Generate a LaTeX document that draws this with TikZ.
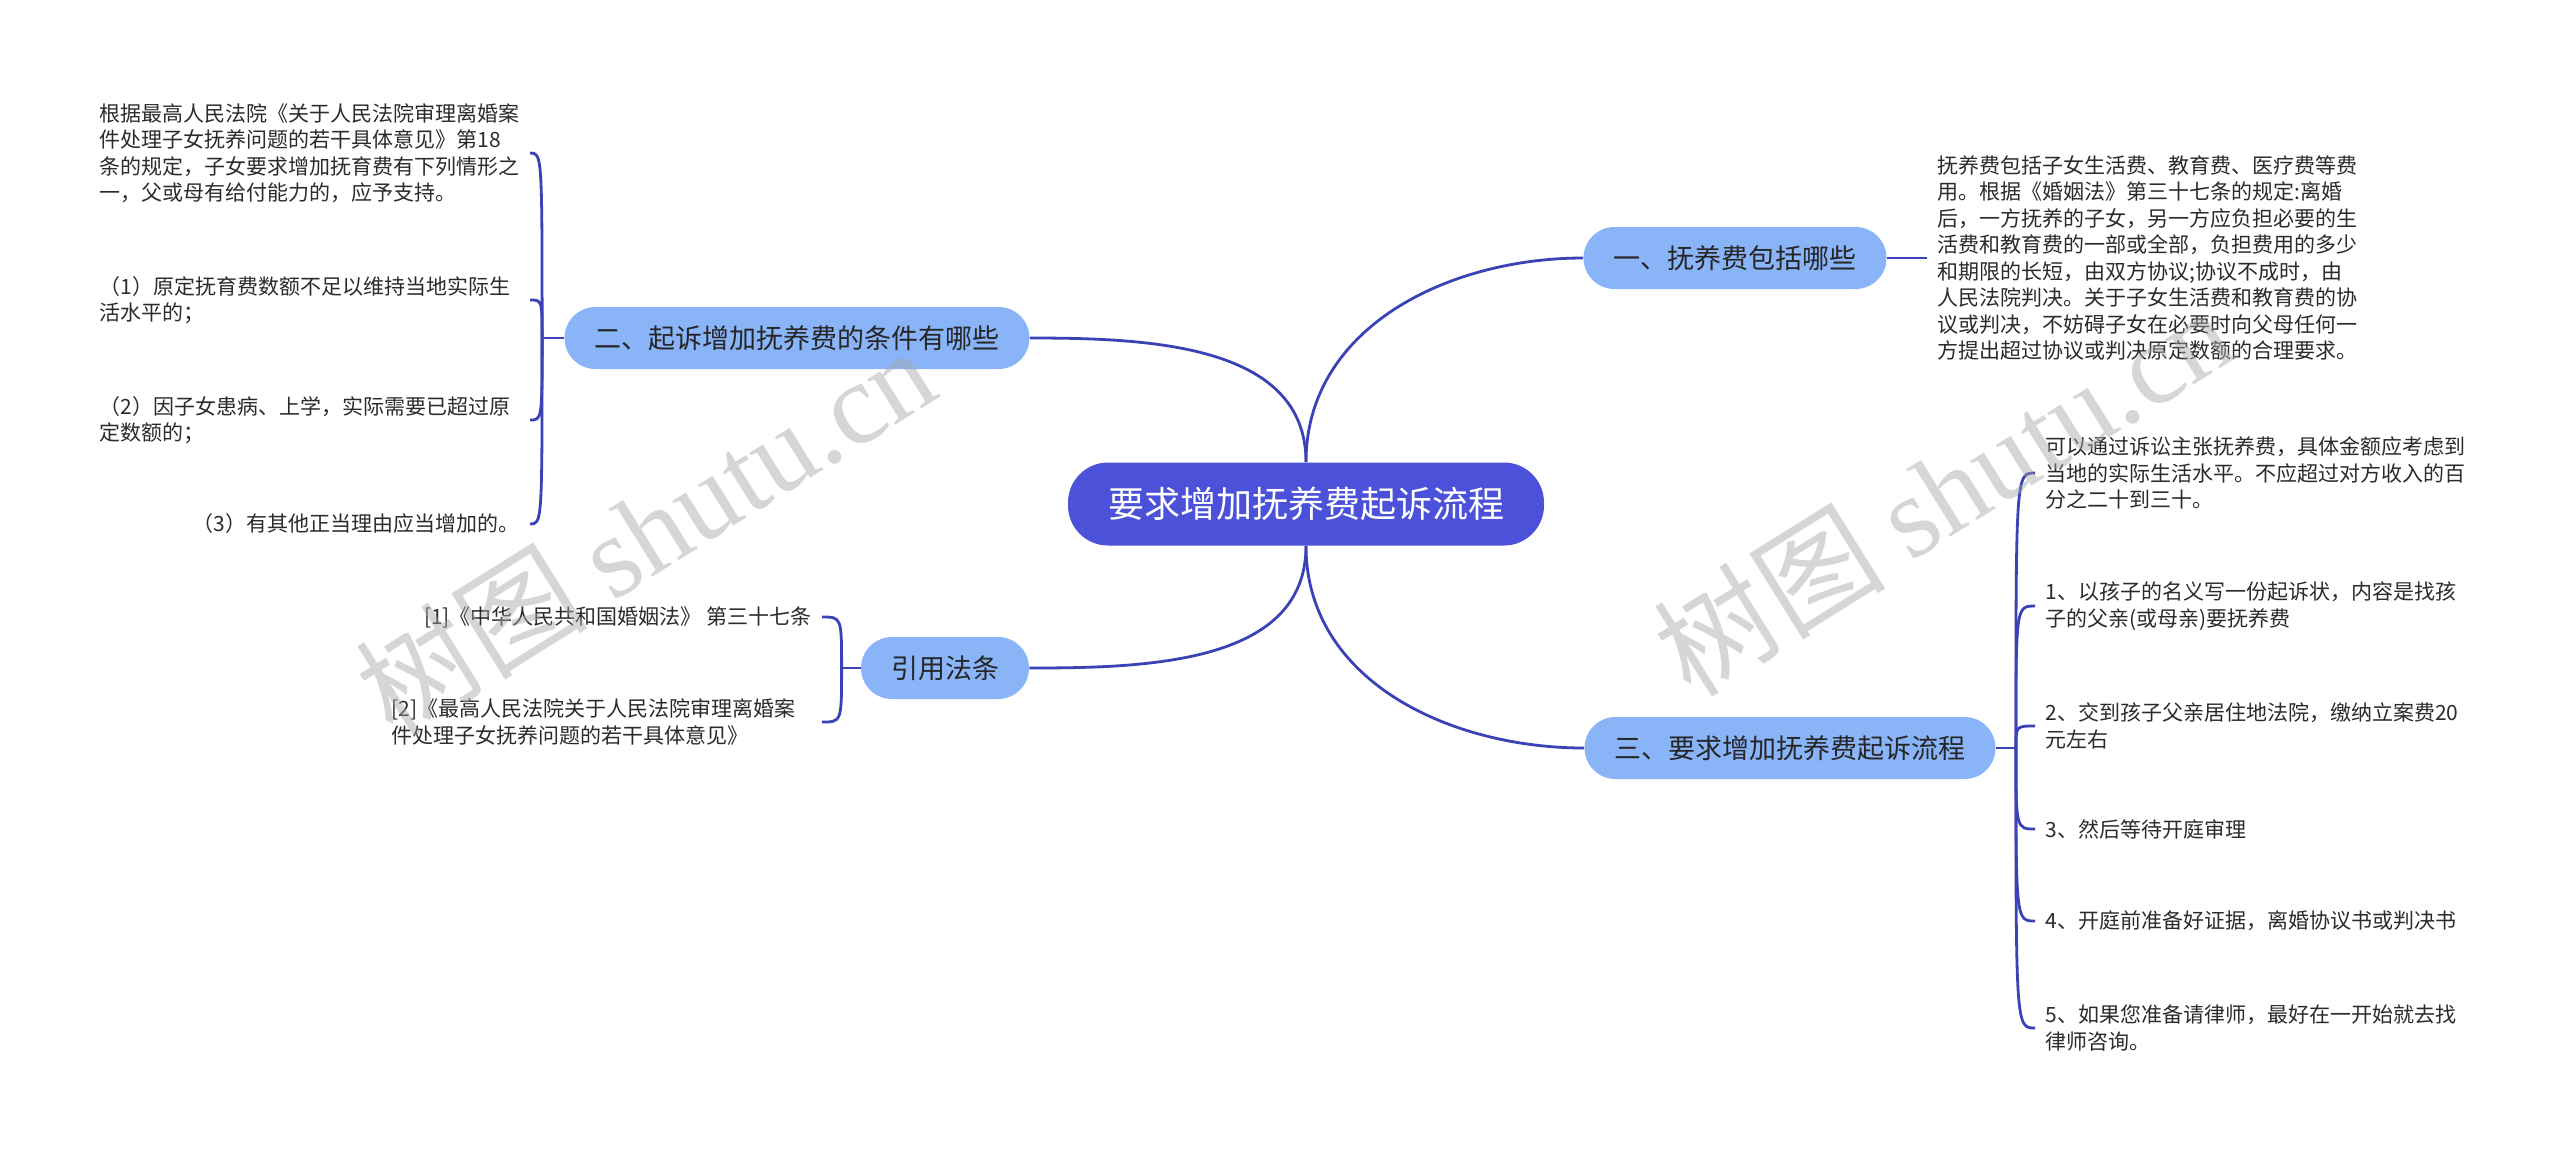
\documentclass[tikz,border=0pt]{standalone}
\usepackage{fontspec}
\setmainfont{Noto Sans CJK SC}
\newfontfamily\wmserif{Liberation Serif}
\usetikzlibrary{positioning}
\definecolor{rootblue}{HTML}{4B51D8}
\definecolor{branchblue}{HTML}{8AB4F8}
\definecolor{linkblue}{HTML}{3B42B5}
\definecolor{leaftext}{HTML}{2B2B2B}

\begin{document}
\begin{tikzpicture}[x=0.5pt, y=0.5pt,
  link/.style={draw=linkblue, line width=1.4pt},
  rootnode/.style={fill=rootblue, text=white, rounded corners=20pt, minimum height=41.5pt, inner xsep=20pt, font=\fontsize{18}{22}\selectfont},
  branch/.style={fill=branchblue, text=black!85, rounded corners=15.5pt, minimum height=31pt, inner xsep=15pt, font=\fontsize{13.5}{16}\selectfont},
  leaf/.style={text=leaftext, inner xsep=5pt, inner ysep=1pt, align=left, font=\fontsize{10.5}{13.25}\selectfont},
  wide/.style={text width=210pt},
  watermark/.style={text=gray!70, text opacity=0.45, rotate=32, font=\fontsize{58}{58}\selectfont}]
\useasboundingbox (0,0) rectangle (2560,-1153);
\fill [white] (0,0) rectangle (2560,-1153);
\node (root) at (1306,-504) [rootnode] {要求增加抚养费起诉流程};
\node (b1) at (1735,-258) [branch] {一、抚养费包括哪些};
\node (b2) at (797,-338) [branch] {二、起诉增加抚养费的条件有哪些};
\node (cite) at (945,-668) [branch] {引用法条};
\node (b3) at (1790,-748) [branch] {三、要求增加抚养费起诉流程};
\node (l1) at (1927,-258) [leaf, anchor=west] {抚养费包括子女生活费、教育费、医疗费等费\\用。根据《婚姻法》第三十七条的规定:离婚\\后，一方抚养的子女，另一方应负担必要的生\\活费和教育费的一部或全部，负担费用的多少\\和期限的长短，由双方协议;协议不成时，由\\人民法院判决。关于子女生活费和教育费的协\\议或判决，不妨碍子女在必要时向父母任何一\\方提出超过协议或判决原定数额的合理要求。};
\node (l2a) at (530,-153) [leaf, wide, anchor=east] {根据最高人民法院《关于人民法院审理离婚案\\件处理子女抚养问题的若干具体意见》第18\\条的规定，子女要求增加抚育费有下列情形之\\一，父或母有给付能力的，应予支持。};
\node (l2b) at (530,-300) [leaf, wide, anchor=east] {（1）原定抚育费数额不足以维持当地实际生\\活水平的；};
\node (l2c) at (530,-420) [leaf, wide, anchor=east] {（2）因子女患病、上学，实际需要已超过原\\定数额的；};
\node (l2d) at (530,-524) [leaf, anchor=east] {（3）有其他正当理由应当增加的。};
\node (c1) at (822,-617) [leaf, anchor=east] {[1]《中华人民共和国婚姻法》 第三十七条};
\node (c2) at (822,-722) [leaf, wide, anchor=east] {[2]《最高人民法院关于人民法院审理离婚案\\件处理子女抚养问题的若干具体意见》};
\node (l3a) at (2035,-473) [leaf, anchor=west] {可以通过诉讼主张抚养费，具体金额应考虑到\\当地的实际生活水平。不应超过对方收入的百\\分之二十到三十。};
\node (l3b) at (2035,-606) [leaf, anchor=west] {1、以孩子的名义写一份起诉状，内容是找孩\\子的父亲(或母亲)要抚养费};
\node (l3c) at (2035,-726) [leaf, anchor=west] {2、交到孩子父亲居住地法院，缴纳立案费20\\元左右};
\node (l3d) at (2035,-829) [leaf, anchor=west] {3、然后等待开庭审理};
\node (l3e) at (2035,-921) [leaf, anchor=west] {4、开庭前准备好证据，离婚协议书或判决书};
\node (l3f) at (2035,-1028) [leaf, anchor=west] {5、如果您准备请律师，最好在一开始就去找\\律师咨询。};
\coordinate [left=11pt of b2] (j2);
\coordinate [left=9.5pt of cite] (jc);
\coordinate [right=10pt of b3] (j3);
\draw [link] (root.north) to[out=90, in=180] (b1.west);
\draw [link] (root.north) to[out=90, in=0] (b2.east);
\draw [link] (root.south) to[out=-90, in=0] (cite.east);
\draw [link] (root.south) to[out=-90, in=180] (b3.west);
\draw [link] (b1.east) -- (l1.west);
\draw [link] (b2.west) -- (j2);
\draw [link] (j2) .. controls (j2 |- l2a.east) and (j2 |- l2a.east) .. (l2a.east);
\draw [link] (j2) .. controls (j2 |- l2b.east) and (j2 |- l2b.east) .. (l2b.east);
\draw [link] (j2) .. controls (j2 |- l2c.east) and (j2 |- l2c.east) .. (l2c.east);
\draw [link] (j2) .. controls (j2 |- l2d.east) and (j2 |- l2d.east) .. (l2d.east);
\draw [link] (cite.west) -- (jc);
\draw [link] (jc) .. controls (jc |- c1.east) and (jc |- c1.east) .. (c1.east);
\draw [link] (jc) .. controls (jc |- c2.east) and (jc |- c2.east) .. (c2.east);
\draw [link] (b3.east) -- (j3);
\draw [link] (j3) .. controls (j3 |- l3a.west) and (j3 |- l3a.west) .. (l3a.west);
\draw [link] (j3) .. controls (j3 |- l3b.west) and (j3 |- l3b.west) .. (l3b.west);
\draw [link] (j3) .. controls (j3 |- l3c.west) and (j3 |- l3c.west) .. (l3c.west);
\draw [link] (j3) .. controls (j3 |- l3d.west) and (j3 |- l3d.west) .. (l3d.west);
\draw [link] (j3) .. controls (j3 |- l3e.west) and (j3 |- l3e.west) .. (l3e.west);
\draw [link] (j3) .. controls (j3 |- l3f.west) and (j3 |- l3f.west) .. (l3f.west);
\node (wm1) at (645,-530) [watermark] {树图 {\wmserif shutu.cn}};
\node (wm2) at (1943,-490) [watermark] {树图 {\wmserif shutu.cn}};
\end{tikzpicture}
\end{document}
